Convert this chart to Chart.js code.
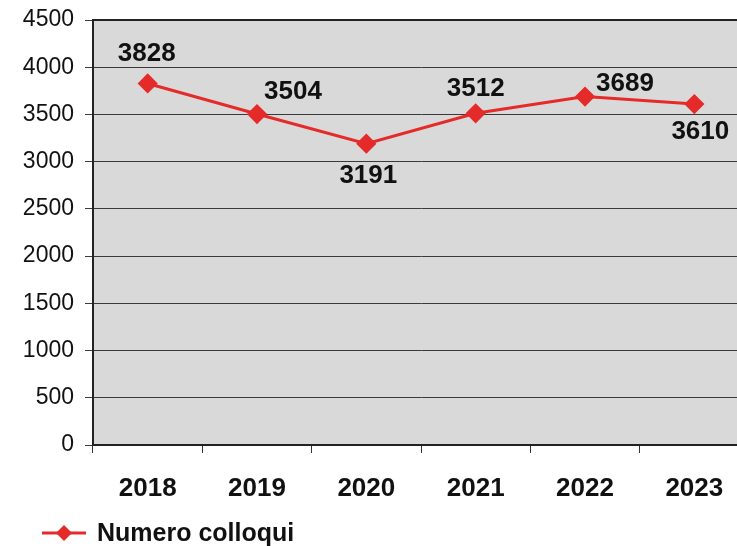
<!DOCTYPE html>
<html>
<head>
<meta charset="utf-8">
<script src="https://cdn.jsdelivr.net/npm/chart.js@4/dist/chart.umd.min.js"></script>
<style>
  html, body { margin: 0; padding: 0; background: #fff; overflow: hidden; }
  #wrap { width: 760px; height: 546px; }
</style>
</head>
<body>
<div id="wrap"><canvas id="chart" width="760" height="546"></canvas></div>
<script>
const years = ['2018', '2019', '2020', '2021', '2022', '2023'];
const colloqui = [3828, 3504, 3191, 3512, 3689, 3610];
const seriesName = 'Numero colloqui';

// where each value label sits relative to its point
const labelOffsets = [[-1, -30], [36, -22], [2, 32], [0, -24], [40, -13], [6, 28]];

const RED = '#e52b2a';
const FONT = '"Liberation Sans", Arial, Helvetica, sans-serif';

const plotBackground = {
  id: 'plotBackground',
  beforeDraw(chart) {
    const { ctx, chartArea: a } = chart;
    ctx.save();
    ctx.fillStyle = '#d9d9d9';
    ctx.fillRect(a.left, a.top, a.right - a.left, a.bottom - a.top);
    ctx.restore();
  },
  afterDatasetsDraw(chart) {
    // darker frame line along the top of the plot
    const { ctx, chartArea: a } = chart;
    ctx.save();
    ctx.strokeStyle = '#222';
    ctx.lineWidth = 2;
    ctx.beginPath();
    ctx.moveTo(a.left, a.top);
    ctx.lineTo(a.right, a.top);
    ctx.stroke();
    ctx.restore();
  }
};

const valueLabels = {
  id: 'valueLabels',
  afterDatasetsDraw(chart) {
    const { ctx } = chart;
    const meta = chart.getDatasetMeta(0);
    ctx.save();
    ctx.font = 'bold 26px ' + FONT;
    ctx.fillStyle = '#111';
    ctx.textAlign = 'center';
    ctx.textBaseline = 'middle';
    meta.data.forEach((pt, i) => {
      const [dx, dy] = labelOffsets[i];
      ctx.fillText(String(colloqui[i]), pt.x + dx, pt.y + dy);
    });
    ctx.restore();
  }
};

const bottomLegend = {
  id: 'bottomLegend',
  afterDraw(chart) {
    const { ctx } = chart;
    const y = 533;
    ctx.save();
    ctx.strokeStyle = RED;
    ctx.lineWidth = 3;
    ctx.beginPath();
    ctx.moveTo(42, y);
    ctx.lineTo(86, y);
    ctx.stroke();
    ctx.fillStyle = RED;
    ctx.beginPath();
    ctx.moveTo(64, y - 8);
    ctx.lineTo(72, y);
    ctx.lineTo(64, y + 8);
    ctx.lineTo(56, y);
    ctx.closePath();
    ctx.fill();
    ctx.font = 'bold 25px ' + FONT;
    ctx.fillStyle = '#111';
    ctx.textBaseline = 'middle';
    ctx.fillText(seriesName, 97, y + 1);
    ctx.restore();
  }
};

new Chart(document.getElementById('chart'), {
  type: 'line',
  data: {
    labels: years,
    datasets: [{
      label: seriesName,
      data: colloqui,
      borderColor: RED,
      backgroundColor: RED,
      borderWidth: 3,
      pointStyle: 'rectRot',
      pointRadius: 8,
      pointHoverRadius: 8,
      tension: 0
    }]
  },
  options: {
    responsive: false,
    animation: false,
    layout: { padding: { top: 20, right: 7, left: 0, bottom: 0 } },
    plugins: { legend: { display: false }, tooltip: { enabled: false } },
    scales: {
      x: {
        offset: true,
        grid: {
          offset: true,
          drawOnChartArea: false,
          drawTicks: true,
          tickLength: 8,
          color: '#333'
        },
        border: { color: '#222', width: 2 },
        ticks: {
          font: { family: FONT, size: 26, weight: 'bold' },
          color: '#111',
          padding: 20
        },
        afterFit(scale) { scale.height = 101; }
      },
      y: {
        min: 0,
        max: 4500,
        grid: { color: '#3a3a3a', lineWidth: 1, tickLength: 8 },
        border: { color: '#222', width: 2 },
        ticks: {
          stepSize: 500,
          font: { family: FONT, size: 23 },
          color: '#111',
          padding: 11,
          callback: v => String(v)
        },
        afterFit(scale) {
          scale.width = 93;
          scale.paddingTop = 0;
          scale.paddingBottom = 0;
        }
      }
    }
  },
  plugins: [plotBackground, valueLabels, bottomLegend]
});
</script>
</body>
</html>
